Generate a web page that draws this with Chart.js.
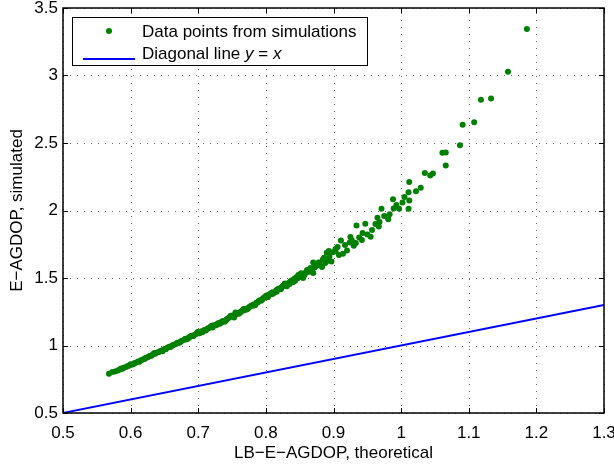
<!DOCTYPE html>
<html>
<head>
<meta charset="utf-8">
<script src="https://cdn.jsdelivr.net/npm/chart.js@4/dist/chart.umd.min.js"></script>
<style>
  html, body { margin: 0; padding: 0; background: #fff; }
  #wrap { width: 614px; height: 464px; }
</style>
</head>
<body>
<div id="wrap"><canvas id="chart" width="614" height="464"></canvas></div>
<script>
// simulated points
const simX = [
  0.568, 0.577, 0.581, 0.584, 0.588, 0.590, 0.593, 0.596, 0.598, 0.601,
  0.604, 0.606, 0.609, 0.611, 0.614, 0.616, 0.619, 0.621, 0.624, 0.626,
  0.628, 0.631, 0.633, 0.636, 0.638, 0.641, 0.643, 0.645, 0.648, 0.650,
  0.652, 0.655, 0.657, 0.659, 0.662, 0.664, 0.667, 0.669, 0.671, 0.674,
  0.676, 0.679, 0.681, 0.683, 0.686, 0.688, 0.690, 0.693, 0.695, 0.697,
  0.700, 0.702, 0.704, 0.707, 0.709, 0.711, 0.714, 0.716, 0.718, 0.721,
  0.723, 0.725, 0.728, 0.730, 0.732, 0.735, 0.737, 0.739, 0.742, 0.744,
  0.746, 0.749, 0.751, 0.753, 0.756, 0.758, 0.760, 0.763, 0.765, 0.768,
  0.770, 0.772, 0.775, 0.777, 0.779, 0.782, 0.784, 0.786, 0.789, 0.791,
  0.793, 0.796, 0.798, 0.800, 0.803, 0.805, 0.807, 0.810, 0.812, 0.815,
  0.817, 0.819, 0.822, 0.824, 0.826, 0.829, 0.831, 0.833, 0.836, 0.838,
  0.840, 0.842, 0.845, 0.847, 0.849, 0.851, 0.853, 0.855, 0.858, 0.860,
  0.862, 0.863, 0.866, 0.868, 0.870, 0.870, 0.875, 0.878, 0.880, 0.883,
  0.884, 0.886, 0.890, 0.892, 0.894, 0.897, 0.899, 0.903, 0.903, 0.908,
  0.914, 0.920, 0.930, 0.933, 0.924, 0.942, 0.911, 0.925, 0.955, 0.950,
  0.943, 0.934, 0.947, 0.967, 0.968, 0.965, 0.981, 0.983, 0.971, 0.989,
  0.997, 1.011, 0.988, 1.002, 1.012, 1.029, 1.022, 1.011, 1.012, 1.035,
  1.043, 1.047, 1.066, 1.061, 1.066, 1.087, 1.091, 1.108, 1.118, 1.133,
  1.158, 1.186,
  0.573, 0.586, 0.600, 0.613, 0.622, 0.635, 0.647, 0.660, 0.673, 0.685,
  0.699, 0.706, 0.713, 0.720, 0.727, 0.734, 0.741, 0.748, 0.755, 0.762,
  0.767, 0.774, 0.781, 0.788, 0.795, 0.802, 0.809, 0.816, 0.823, 0.828,
  0.835, 0.843, 0.848, 0.852, 0.857, 0.861, 0.865, 0.872, 0.877, 0.888,
  0.893, 0.906, 0.917, 0.927, 0.938, 0.957, 0.962, 0.975, 0.993, 1.005
];
const simY = [
  0.790, 0.808, 0.815, 0.822, 0.828, 0.836, 0.840, 0.848, 0.852, 0.858,
  0.862, 0.870, 0.874, 0.882, 0.886, 0.893, 0.898, 0.902, 0.912, 0.914,
  0.922, 0.925, 0.935, 0.938, 0.946, 0.950, 0.955, 0.962, 0.966, 0.975,
  0.972, 0.985, 0.990, 0.988, 1.002, 1.006, 1.012, 1.020, 1.018, 1.030,
  1.036, 1.040, 1.050, 1.046, 1.060, 1.064, 1.072, 1.070, 1.082, 1.086,
  1.094, 1.090, 1.104, 1.108, 1.114, 1.112, 1.126, 1.130, 1.138, 1.134,
  1.150, 1.148, 1.160, 1.166, 1.162, 1.178, 1.182, 1.176, 1.195, 1.200,
  1.210, 1.214, 1.222, 1.208, 1.232, 1.240, 1.236, 1.252, 1.258, 1.262,
  1.272, 1.266, 1.284, 1.290, 1.296, 1.304, 1.298, 1.316, 1.328, 1.336,
  1.332, 1.350, 1.358, 1.366, 1.358, 1.378, 1.386, 1.394, 1.388, 1.408,
  1.414, 1.422, 1.416, 1.436, 1.444, 1.452, 1.438, 1.462, 1.474, 1.482,
  1.468, 1.494, 1.506, 1.498, 1.516, 1.510, 1.524, 1.500, 1.537, 1.548,
  1.545, 1.561, 1.575, 1.556, 1.537, 1.615, 1.590, 1.615, 1.598, 1.581,
  1.635, 1.650, 1.687, 1.628, 1.660, 1.623, 1.690, 1.715, 1.697, 1.670,
  1.680, 1.704, 1.739, 1.759, 1.763, 1.781, 1.778, 1.803, 1.805, 1.823,
  1.833, 1.889, 1.902, 1.882, 1.914, 1.946, 1.936, 1.973, 2.013, 2.015,
  2.013, 2.013, 2.084, 2.059, 2.074, 2.168, 2.143, 2.136, 2.212, 2.277,
  2.259, 2.274, 2.333, 2.427, 2.430, 2.484, 2.636, 2.654, 2.821, 2.829,
  3.028, 3.344,
  0.803, 0.830, 0.862, 0.880, 0.908, 0.945, 0.958, 0.995, 1.024, 1.052,
  1.100, 1.098, 1.120, 1.146, 1.152, 1.170, 1.186, 1.220, 1.244, 1.244,
  1.270, 1.276, 1.294, 1.318, 1.342, 1.372, 1.380, 1.398, 1.428, 1.460,
  1.456, 1.478, 1.522, 1.536, 1.520, 1.560, 1.548, 1.578, 1.604, 1.612,
  1.700, 1.730, 1.745, 1.780, 1.800, 1.855, 1.900, 1.960, 2.040, 2.100
];

// diagonal reference line y = x
const diagX = [0.5, 1.3];
const diagY = [0.5, 1.3];

const xTicks = [0.5, 0.6, 0.7, 0.8, 0.9, 1.0, 1.1, 1.2, 1.3];
const yTicks = [0.5, 1.0, 1.5, 2.0, 2.5, 3.0, 3.5];

const FONT = 'Liberation Sans, Arial, Helvetica, sans-serif';
const GREEN = '#008000';
const BLUE = '#0000ff';

function fmt(v) {
    return String(Math.round(v * 10) / 10);
}

// grid, box, inner ticks and legend drawn the MATLAB way
const matlabAxes = {
    id: 'matlabAxes',
    beforeDatasetsDraw(chart) {
        const { ctx, chartArea: a, scales: { x, y } } = chart;
        ctx.save();
        ctx.strokeStyle = 'rgba(0,0,0,0.6)';
        ctx.lineWidth = 1;
        ctx.setLineDash([1, 6]);
        xTicks.forEach(v => {
            const px = Math.round(x.getPixelForValue(v)) + 0.5;
            ctx.beginPath();
            ctx.moveTo(px, a.bottom);
            ctx.lineTo(px, a.top);
            ctx.stroke();
        });
        yTicks.forEach(v => {
            const py = Math.round(y.getPixelForValue(v)) + 0.5;
            ctx.beginPath();
            ctx.moveTo(a.left, py);
            ctx.lineTo(a.right, py);
            ctx.stroke();
        });
        ctx.restore();
    },
    afterDatasetsDraw(chart) {
        const { ctx, chartArea: a, scales: { x, y } } = chart;
        ctx.save();
        ctx.strokeStyle = '#000';
        ctx.lineWidth = 1.5;
        ctx.strokeRect(a.left, a.top, a.right - a.left, a.bottom - a.top);

        // ticks pointing inward on all four sides
        ctx.lineWidth = 1;
        const len = 5;
        xTicks.forEach(v => {
            const px = Math.round(x.getPixelForValue(v)) + 0.5;
            ctx.beginPath();
            ctx.moveTo(px, a.bottom); ctx.lineTo(px, a.bottom - len);
            ctx.moveTo(px, a.top); ctx.lineTo(px, a.top + len);
            ctx.stroke();
        });
        yTicks.forEach(v => {
            const py = Math.round(y.getPixelForValue(v)) + 0.5;
            ctx.beginPath();
            ctx.moveTo(a.left, py); ctx.lineTo(a.left + len, py);
            ctx.moveTo(a.right, py); ctx.lineTo(a.right - len, py);
            ctx.stroke();
        });

        // legend box
        const bx = a.left + 9, by = a.top + 9, bw = 295, bh = 48;
        ctx.fillStyle = '#fff';
        ctx.fillRect(bx, by, bw, bh);
        ctx.strokeStyle = '#000';
        ctx.lineWidth = 1;
        ctx.strokeRect(bx + 0.5, by + 0.5, bw, bh);

        ctx.fillStyle = GREEN;
        ctx.beginPath();
        ctx.arc(bx + 37, by + 14, 3, 0, Math.PI * 2);
        ctx.fill();

        ctx.strokeStyle = BLUE;
        ctx.lineWidth = 1.8;
        ctx.beginPath();
        ctx.moveTo(bx + 11, by + 42);
        ctx.lineTo(bx + 63, by + 42);
        ctx.stroke();

        ctx.fillStyle = '#000';
        ctx.textBaseline = 'middle';
        ctx.textAlign = 'left';
        ctx.font = '17px ' + FONT;
        const tx = bx + 70;
        ctx.fillText('Data points from simulations', tx, by + 15);
        let cx = tx;
        const row2 = by + 37;
        const parts = [['Diagonal line ', false], ['y', true], [' = ', false], ['x', true]];
        parts.forEach(([s, it]) => {
            ctx.font = (it ? 'italic ' : '') + '17px ' + FONT;
            ctx.fillText(s, cx, row2);
            cx += ctx.measureText(s).width;
        });
        ctx.restore();
    }
};

const ctx = document.getElementById('chart').getContext('2d');
new Chart(ctx, {
    type: 'scatter',
    data: {
        datasets: [
            {
                label: 'Data points from simulations',
                data: simX.map((v, i) => ({ x: v, y: simY[i] })),
                backgroundColor: GREEN,
                borderWidth: 0,
                pointRadius: 3,
                pointHoverRadius: 3
            },
            {
                type: 'line',
                label: 'Diagonal line y = x',
                data: diagX.map((v, i) => ({ x: v, y: diagY[i] })),
                borderColor: BLUE,
                borderWidth: 1.8,
                pointRadius: 0,
                fill: false
            }
        ]
    },
    options: {
        responsive: false,
        animation: false,
        events: [],
        layout: { padding: { top: 8, right: 10, left: 0, bottom: 0 } },
        plugins: {
            legend: { display: false },
            tooltip: { enabled: false }
        },
        scales: {
            x: {
                type: 'linear',
                min: 0.5,
                max: 1.3,
                afterBuildTicks: s => { s.ticks = xTicks.map(v => ({ value: v })); },
                afterFit: s => {
                    s.height = 51;
                    s.paddingLeft = 0;
                    s.paddingRight = 0;
                },
                grid: { display: false, drawTicks: false },
                border: { display: false },
                ticks: {
                    padding: 10,
                    maxRotation: 0,
                    color: '#000',
                    font: { family: FONT, size: 17 },
                    callback: v => fmt(v)
                },
                title: {
                    display: true,
                    text: 'LB−E−AGDOP, theoretical',
                    color: '#000',
                    font: { family: FONT, size: 17 },
                    padding: { top: 0, bottom: 0 }
                }
            },
            y: {
                type: 'linear',
                min: 0.5,
                max: 3.5,
                afterBuildTicks: s => { s.ticks = yTicks.map(v => ({ value: v })); },
                afterFit: s => {
                    s.width = 63;
                    s.paddingTop = 0;
                    s.paddingBottom = 0;
                },
                grid: { display: false, drawTicks: false },
                border: { display: false },
                ticks: {
                    padding: 5,
                    color: '#000',
                    font: { family: FONT, size: 17 },
                    callback: v => fmt(v)
                },
                title: {
                    display: true,
                    text: 'E−AGDOP, simulated',
                    color: '#000',
                    font: { family: FONT, size: 17 },
                    padding: { top: 7, bottom: 0 }
                }
            }
        }
    },
    plugins: [matlabAxes]
});
</script>
</body>
</html>
